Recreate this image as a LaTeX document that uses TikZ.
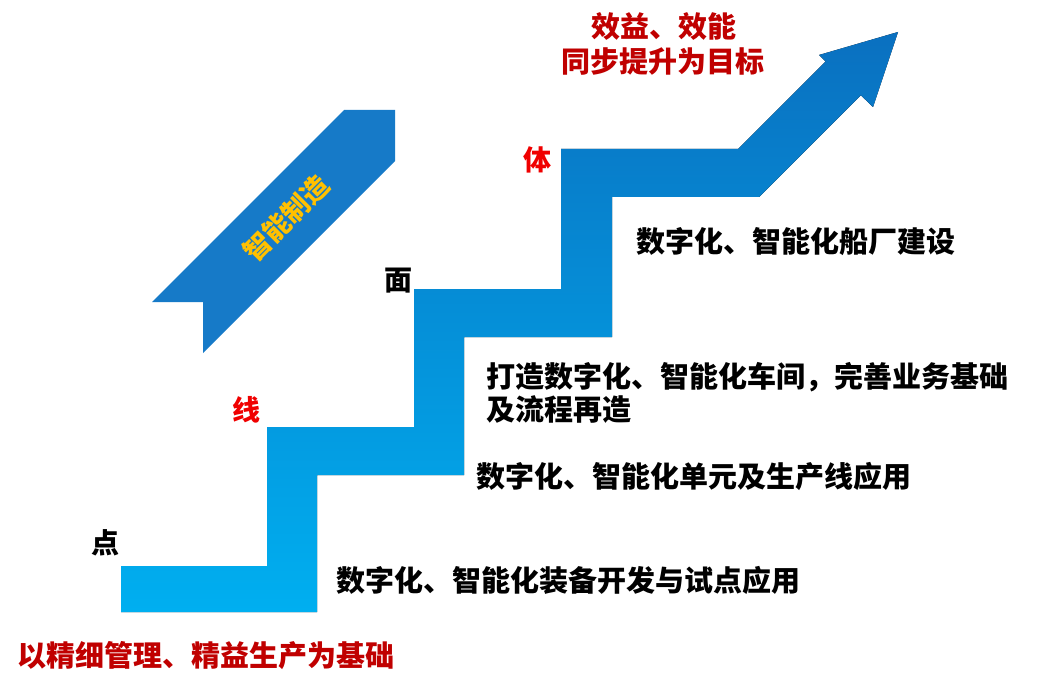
\documentclass[tikz,border=0pt]{standalone}
\usepackage{fontspec}
\newfontfamily\cjk{Noto Sans CJK SC}
\definecolor{stairlight}{RGB}{0,175,240}
\definecolor{stairdark}{RGB}{10,112,192}
\definecolor{ribboncol}{RGB}{22,122,200}
\definecolor{darkred}{RGB}{192,0,0}
\definecolor{brightred}{RGB}{240,0,0}
\definecolor{goldcol}{RGB}{255,192,0}
\begin{document}
\begin{tikzpicture}[x=1pt,y=-1pt,
  txt/.style={inner sep=0pt, font=\cjk\bfseries\fontsize{#1}{#1}\selectfont},
  bigtxt/.style={txt=29}]
\fill[white] (0,0) rectangle (1053,690);
\useasboundingbox (0,0) rectangle (1053,690);

% staircase arrow
\fill[top color=stairdark, bottom color=stairlight]
  (121,612) -- (121,566) -- (267,566) -- (267,427) -- (414,427) -- (414,289)
  -- (561,289) -- (561,149) -- (738,149) -- (825.6,61.4) -- (819,55)
  -- (898,32) -- (873,107) -- (860.8,95.2) -- (759,197) -- (612,197)
  -- (612,337) -- (464,337) -- (464,475) -- (317,475) -- (317,612) -- cycle;

% ribbon
\fill[ribboncol] (152,302) -- (344,110) -- (395,110) -- (395,161) -- (203,353) -- (203,302) -- cycle;
\node[txt=27, text=goldcol, rotate=45] (ribbontxt) at (286,218) {智能制造};

% goal
\node[bigtxt, text=darkred, anchor=base] (goal1) at (664,37.5) {效益、效能};
\node[bigtxt, text=darkred, anchor=base] (goal2) at (663,72.5) {同步提升为目标};

% stage labels
\node[txt=28, text=brightred, anchor=base] (ti) at (537,170.5) {体};
\node[txt=28, anchor=base] (mian) at (398.5,290) {面};
\node[txt=28, text=brightred, anchor=base] (xian) at (246,420.5) {线};
\node[txt=28, anchor=base] (dian) at (105,553) {点};

% descriptions
\node[bigtxt, anchor=base west] (d4) at (636,252) {数字化、智能化船厂建设};
\node[bigtxt, anchor=base west] (d3a) at (486,387) {打造数字化、智能化车间，完善业务基础};
\node[bigtxt, anchor=base west] (d3b) at (486,420) {及流程再造};
\node[bigtxt, anchor=base west] (d2) at (476,487.5) {数字化、智能化单元及生产线应用};
\node[bigtxt, anchor=base west] (d1) at (336,591) {数字化、智能化装备开发与试点应用};
\node[bigtxt, text=darkred, anchor=base west] (base) at (17,666) {以精细管理、精益生产为基础};
\end{tikzpicture}
\end{document}
